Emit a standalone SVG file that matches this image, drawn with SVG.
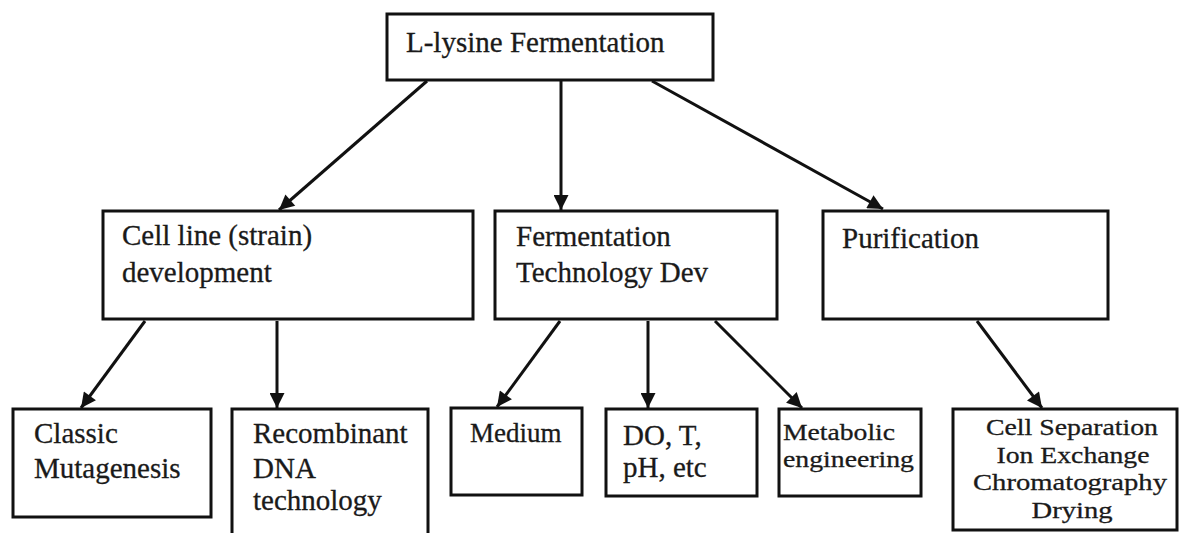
<svg xmlns="http://www.w3.org/2000/svg" width="1188" height="533" viewBox="0 0 1188 533">
<style>
.box{fill:#fff;stroke:#111;stroke-width:3}
.t{font-family:"Liberation Serif","Times New Roman",serif;font-size:29px;fill:#1a1a1a;stroke:#1a1a1a;stroke-width:0.3}
.s{font-size:27px}
.m{font-size:24px}
.c{text-anchor:middle;font-size:24px}
.edge{stroke:#111;stroke-width:3;fill:none;marker-end:url(#ah)}
</style>
<defs>
<marker id="ah" viewBox="0 0 10 10" refX="10" refY="5" markerWidth="6" markerHeight="5" markerUnits="strokeWidth" orient="auto">
<path d="M0,0 L10,5 L0,10 z" fill="#111"/>
</marker>
</defs>
<rect width="1188" height="533" fill="#fff"/>
<g id="connectors">
<line class="edge" x1="427" y1="81" x2="279" y2="210"/>
<line class="edge" x1="561" y1="81" x2="561" y2="210"/>
<line class="edge" x1="652" y1="81" x2="883" y2="209"/>
<line class="edge" x1="145" y1="321" x2="81" y2="408"/>
<line class="edge" x1="277" y1="321" x2="277" y2="408"/>
<line class="edge" x1="560" y1="321" x2="497" y2="407"/>
<line class="edge" x1="648" y1="321" x2="648" y2="408"/>
<line class="edge" x1="715" y1="321" x2="802" y2="408"/>
<line class="edge" x1="977" y1="321" x2="1042" y2="408"/>
</g>
<g id="root">
<rect class="box" x="387" y="14" width="326" height="66"/>
<text class="t" x="406" y="52">L-lysine Fermentation</text>
</g>
<g id="cellline">
<rect class="box" x="103" y="211" width="370" height="108"/>
<text class="t" x="122" y="245">Cell line (strain)</text>
<text class="t" x="122" y="282">development</text>
</g>
<g id="fermtech">
<rect class="box" x="495" y="211" width="282" height="108"/>
<text class="t" x="516" y="246">Fermentation</text>
<text class="t" x="516" y="282">Technology Dev</text>
</g>
<g id="purification">
<rect class="box" x="823" y="211" width="285" height="108"/>
<text class="t" x="842" y="248">Purification</text>
</g>
<g id="classic">
<rect class="box" x="13" y="409" width="198" height="108"/>
<text class="t" x="34" y="443">Classic</text>
<text class="t" x="34" y="478">Mutagenesis</text>
</g>
<g id="recombinant">
<rect class="box" x="232" y="409" width="196" height="130"/>
<text class="t" x="253" y="443">Recombinant</text>
<text class="t" x="253" y="478">DNA</text>
<text class="t" x="253" y="510">technology</text>
</g>
<g id="medium">
<rect class="box" x="451" y="408" width="131" height="87"/>
<text class="t s" x="470" y="442">Medium</text>
</g>
<g id="do">
<rect class="box" x="606" y="409" width="151" height="87"/>
<text class="t" x="623" y="445">DO, T,</text>
<text class="t" x="623" y="477">pH, etc</text>
</g>
<g id="metabolic">
<rect class="box" x="779" y="409" width="142" height="87"/>
<text class="t m" x="783" y="440" textLength="112" lengthAdjust="spacingAndGlyphs">Metabolic</text>
<text class="t m" x="783" y="467" textLength="131" lengthAdjust="spacingAndGlyphs">engineering</text>
</g>
<g id="cellsep">
<rect class="box" x="953" y="409" width="224" height="121"/>
<text class="t c" x="1072" y="435" textLength="172" lengthAdjust="spacingAndGlyphs">Cell Separation</text>
<text class="t c" x="1073" y="463" textLength="153" lengthAdjust="spacingAndGlyphs">Ion Exchange</text>
<text class="t c" x="1070" y="490" textLength="194" lengthAdjust="spacingAndGlyphs">Chromatography</text>
<text class="t c" x="1072" y="518" textLength="81" lengthAdjust="spacingAndGlyphs">Drying</text>
</g>
</svg>
